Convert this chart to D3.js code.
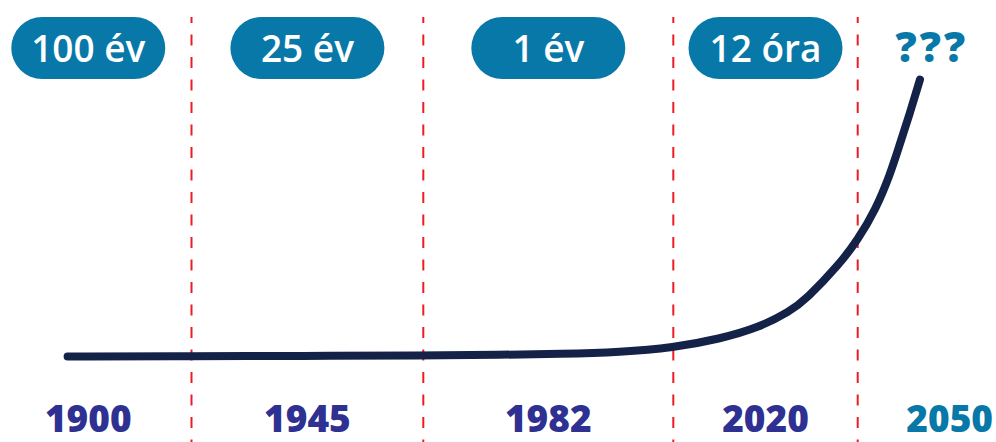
<!DOCTYPE html>
<html lang="hu">
<head>
  <meta charset="utf-8">
  <title>Tudás duplázódása</title>
  <script src="https://d3js.org/d3.v7.min.js"></script>
<style>
  body { margin: 0; background: #fff; }
  .pill text { fill: #fff; font: 600 37px "Open Sans", sans-serif; }
  .year { font: 800 37px "Open Sans", sans-serif; }
  .divider { stroke: #ec1c24; stroke-width: 2; stroke-dasharray: 11 11.5; stroke-dashoffset: 5; }
</style>
</head>
<body>
<svg width="996" height="442"></svg>
<script>
// eras: year labels and knowledge doubling time
var years = ["1900", "1945", "1982", "2020", "2050"];
var doubling = ["100 év", "25 év", "1 év", "12 óra", "???"];

// curve, x in era units (0..5), y in relative knowledge (0..100)
var curveX = [0.40, 1.00, 1.47, 2.00, 2.31, 2.55, 2.79, 3.00, 3.25, 3.47, 3.63, 3.72, 3.90, 4.00, 4.12, 4.22, 4.28, 4.35, 4.42];
var curveY = [0, 0.1, 0.2, 0.4, 0.6, 0.9, 1.6, 3.2, 6.3, 10.6, 16.2, 20.6, 33.2, 42.1, 52.9, 65.9, 76, 87.5, 100];

var svg = d3.select("svg"),
    width = +svg.attr("width"),
    height = +svg.attr("height");

// era boundaries (piecewise, eras are not the same width)
var x = d3.scaleLinear()
    .domain([0, 1, 2, 3, 4, 5])
    .range([-15, 191.5, 423.3, 673.3, 857.7, 1006]);
var y = d3.scaleLinear().domain([0, 100]).range([356.5, 79.5]);

var blue = "#0878a8", indigo = "#2e3192";

// dashed dividers between eras
svg.append("g").selectAll("line")
    .data([1, 2, 3, 4])
    .enter().append("line")
      .attr("class", "divider")
      .attr("x1", d => x(d)).attr("x2", d => x(d))
      .attr("y1", 17).attr("y2", height);

// the curve
var pts = curveX.map((d, i) => [d, curveY[i]]);
svg.append("path")
    .datum(pts)
    .attr("fill", "none")
    .attr("stroke", "#152248")
    .attr("stroke-width", 8)
    .attr("stroke-linecap", "round")
    .attr("d", d3.line().x(d => x(d[0])).y(d => y(d[1])).curve(d3.curveBasis));

// doubling-time pills
var pillW = 154, pillH = 62;
var pills = svg.append("g").selectAll("g")
    .data(doubling)
    .enter().append("g")
      .attr("class", "pill")
      .attr("transform", (d, i) => "translate(" + x(i + 0.5) + ",48)");

pills.filter(d => d !== "???").append("rect")
    .attr("x", -pillW / 2).attr("y", -pillH / 2)
    .attr("width", pillW).attr("height", pillH)
    .attr("rx", pillH / 2)
    .attr("fill", blue);

pills.append("text")
    .attr("text-anchor", "middle")
    .attr("y", 13.5)
    .style("fill", d => d === "???" ? blue : null)
    .style("font-weight", d => d === "???" ? 800 : null)
    .style("font-size", d => d === "???" ? "42px" : null)
    .style("letter-spacing", d => d === "???" ? "3px" : null)
    .text(d => d);

// year labels
svg.append("g").selectAll("text")
    .data(years)
    .enter().append("text")
      .attr("class", "year")
      .attr("x", (d, i) => i === years.length - 1 ? width - 3 : x(i + 0.5))
      .attr("y", 431.5)
      .attr("text-anchor", (d, i) => i === years.length - 1 ? "end" : "middle")
      .attr("fill", (d, i) => i === years.length - 1 ? blue : indigo)
      .text(d => d);
</script>
</body>
</html>
